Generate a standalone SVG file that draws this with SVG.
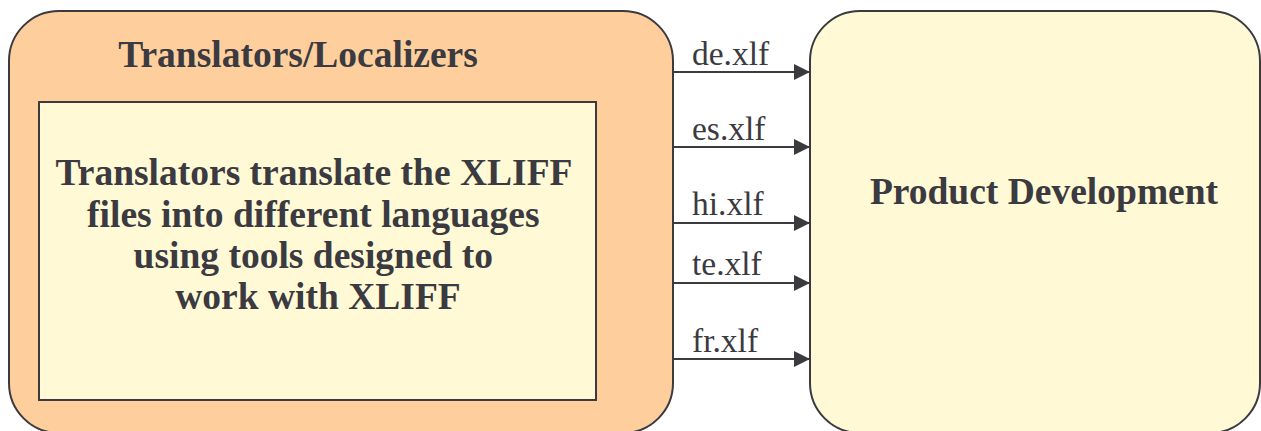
<svg xmlns="http://www.w3.org/2000/svg" width="1261" height="431" viewBox="0 0 1261 431">
  <style>
    .box { stroke: #3a3a3f; stroke-width: 2; }
    .outer { fill: #fecf9d; }
    .inner { fill: #fff9d6; }
    .bold { font-family: "Liberation Serif", "Times New Roman", serif; font-weight: bold; fill: #3a3a40; }
    .lbl { font-family: "Liberation Serif", "Times New Roman", serif; font-size: 33.5px; fill: #3a3a40; }
    .conn { stroke: #3a3a3f; stroke-width: 2; fill: none; }
  </style>
  <defs>
    <marker id="arrow" markerUnits="userSpaceOnUse" markerWidth="16" markerHeight="16" refX="16" refY="8" orient="auto">
      <path d="M0,0 L16,8 L0,16 Z" fill="#3a3a3f"/>
    </marker>
  </defs>
  <rect width="1261" height="431" fill="#ffffff"/>

  <g id="translators">
    <rect class="box outer" x="9" y="11" width="664" height="422" rx="50" ry="50"/>
    <text class="bold" x="298" y="67" font-size="37.5" text-anchor="middle">Translators/Localizers</text>
  </g>

  <g id="translators-task">
    <rect class="box inner" x="39" y="102" width="557" height="298"/>
    <text class="bold" font-size="37.5" text-anchor="middle">
      <tspan x="318" y="185">Translators translate the XLIFF</tspan>
      <tspan x="318" y="227">files into different languages</tspan>
      <tspan x="318" y="268">using tools designed to</tspan>
      <tspan x="318" y="309">work with XLIFF</tspan>
    </text>
  </g>

  <g id="product-development">
    <rect class="box inner" x="810" y="11" width="450" height="422" rx="50" ry="50"/>
    <text class="bold" x="1044" y="204" font-size="37.5" text-anchor="middle">Product Development</text>
  </g>

  <g id="connectors">
    <line class="conn" x1="674" y1="72" x2="810" y2="72" marker-end="url(#arrow)"/>
    <line class="conn" x1="674" y1="147" x2="810" y2="147" marker-end="url(#arrow)"/>
    <line class="conn" x1="674" y1="223" x2="810" y2="223" marker-end="url(#arrow)"/>
    <line class="conn" x1="674" y1="283" x2="810" y2="283" marker-end="url(#arrow)"/>
    <line class="conn" x1="674" y1="359" x2="810" y2="359" marker-end="url(#arrow)"/>
    <text class="lbl" x="692" y="65">de.xlf</text>
    <text class="lbl" x="692" y="140">es.xlf</text>
    <text class="lbl" x="692" y="215">hi.xlf</text>
    <text class="lbl" x="692" y="275">te.xlf</text>
    <text class="lbl" x="692" y="352">fr.xlf</text>
  </g>
</svg>
